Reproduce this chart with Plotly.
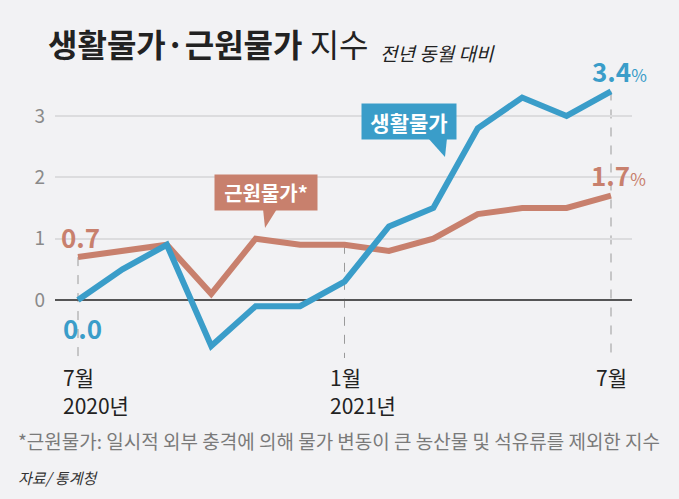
import plotly.graph_objects as go

# ---- data ----
months = ["2020-07", "2020-08", "2020-09", "2020-10", "2020-11", "2020-12",
          "2021-01", "2021-02", "2021-03", "2021-04", "2021-05", "2021-06", "2021-07"]
living_prices = [0.0, 0.5, 0.9, -0.75, -0.1, -0.1, 0.3, 1.2, 1.5, 2.8, 3.3, 3.0, 3.4]
core_prices = [0.7, 0.8, 0.9, 0.1, 1.0, 0.9, 0.9, 0.8, 1.0, 1.4, 1.5, 1.5, 1.7]
y_ticks = [0, 1, 2, 3]
x_label_idx = [0, 6, 12]
x_month_labels = ["7월", "1월", "7월"]
x_year_labels = ["2020년", "2021년", ""]

FONT = "Noto Sans CJK KR"
BLUE = "#3a9dc9"
ORANGE = "#c8806d"
BG = "#f2f2f4"

W, H = 679, 499
L, R, T, B = 55, 47, 70, 124
PW, PH = W - L - R, H - T - B
# pixel mapping used for axis ranges
x0_px, x12_px = 78, 611
ppx = (x12_px - x0_px) / 12
zero_px, three_px = 300, 116
ppu = (zero_px - three_px) / 3

xr = [(L - x0_px) / ppx, 12 + (W - R - x12_px) / ppx]
yr = [-(H - B - zero_px) / ppu, (zero_px - T) / ppu]

def px(xp):
    return (xp - L) / PW

def py(yp):
    return (H - B - yp) / PH

idx = list(range(len(months)))

fig = go.Figure()
fig.add_trace(go.Scatter(x=idx, y=core_prices, mode="lines",
                         line=dict(color=ORANGE, width=6), hoverinfo="skip"))
fig.add_trace(go.Scatter(x=idx, y=living_prices, mode="lines",
                         line=dict(color=BLUE, width=6), hoverinfo="skip"))

shapes = []
# dashed guide lines
bottom_val = -(358 - zero_px) / ppu
for i, top in [(0, core_prices[0]), (6, core_prices[6]), (12, living_prices[12])]:
    shapes.append(dict(type="line", xref="x", yref="y", x0=i, x1=i, y0=top, y1=bottom_val,
                       line=dict(color="#9a9a9a", width=1, dash="dash"), layer="below"))

# callout tails (paper coords)
def tri(points, color):
    path = "M " + " L ".join(f"{px(a):.4f},{py(b):.4f}" for a, b in points) + " Z"
    return dict(type="path", xref="paper", yref="paper", path=path,
                fillcolor=color, line=dict(width=0), layer="above")

shapes.append(tri([(263, 209), (277, 209), (265, 228)], ORANGE))
shapes.append(tri([(428, 138), (447, 138), (445, 157)], BLUE))

annotations = []
# callout boxes
annotations.append(dict(xref="paper", yref="paper", x=px(266), y=py(192.5),
                        text="<b>근원물가*</b>", showarrow=False,
                        font=dict(family=FONT, size=20, color="white"),
                        bgcolor=ORANGE, width=98, height=31, borderpad=2,
                        xanchor="center", yanchor="middle"))
annotations.append(dict(xref="paper", yref="paper", x=px(409), y=py(121),
                        text="<b>생활물가</b>", showarrow=False,
                        font=dict(family=FONT, size=21, color="white"),
                        bgcolor=BLUE, width=90, height=31, borderpad=2,
                        xanchor="center", yanchor="middle"))

# value labels
annotations.append(dict(x=0, y=core_prices[0], xref="x", yref="y", text="<b>0.7</b>",
                        showarrow=False, xshift=2, yshift=21,
                        font=dict(family=FONT, size=26, color=ORANGE)))
annotations.append(dict(x=0, y=living_prices[0], xref="x", yref="y", text="<b>0.0</b>",
                        showarrow=False, xshift=4, yshift=-27,
                        font=dict(family=FONT, size=26, color=BLUE)))
annotations.append(dict(x=12, y=living_prices[12], xref="x", yref="y",
                        text="<b>3.4</b><span style='font-size:17px;font-weight:normal'>%</span>",
                        showarrow=False, xshift=8, yshift=21,
                        font=dict(family=FONT, size=26, color=BLUE)))
annotations.append(dict(x=12, y=core_prices[12], xref="x", yref="y",
                        text="<b>1.7</b><span style='font-size:17px;font-weight:normal'>%</span>",
                        showarrow=False, xshift=7, yshift=21,
                        font=dict(family=FONT, size=26, color=ORANGE)))

# x labels
for i, m, yl in zip(x_label_idx, x_month_labels, x_year_labels):
    annotations.append(dict(x=i, xref="x", yref="paper", y=py(377), text=m,
                            showarrow=False, xanchor="left", yanchor="middle", xshift=-17,
                            font=dict(family=FONT, size=21, color="#222")))
    if yl:
        annotations.append(dict(x=i, xref="x", yref="paper", y=py(405), text=yl,
                                showarrow=False, xanchor="left", yanchor="middle", xshift=-17,
                                font=dict(family=FONT, size=21, color="#222")))

# title
annotations.append(dict(xref="paper", yref="paper", x=px(46), y=py(43),
                        text="<b>생활물가·근원물가</b> 지수", showarrow=False,
                        xanchor="left", yanchor="middle",
                        font=dict(family=FONT, size=32, color="#222")))
annotations.append(dict(xref="paper", yref="paper", x=px(378), y=py(52),
                        text="<i>전년 동월 대비</i>", showarrow=False,
                        xanchor="left", yanchor="middle",
                        font=dict(family=FONT, size=19, color="#222")))
# footnotes
annotations.append(dict(xref="paper", yref="paper", x=px(16), y=py(440),
                        text="*근원물가: 일시적 외부 충격에 의해 물가 변동이 큰 농산물 및 석유류를 제외한 지수",
                        showarrow=False, xanchor="left", yanchor="middle",
                        font=dict(family=FONT, size=19, color="#7a7a7a")))
annotations.append(dict(xref="paper", yref="paper", x=px(16), y=py(477),
                        text="<i>자료/ 통계청</i>", showarrow=False, xanchor="left", yanchor="middle",
                        font=dict(family=FONT, size=15, color="#333")))

fig.update_layout(
    width=W, height=H,
    margin=dict(l=L, r=R, t=T, b=B),
    paper_bgcolor=BG, plot_bgcolor=BG,
    showlegend=False,
    shapes=shapes, annotations=annotations,
    xaxis=dict(range=xr, showgrid=False, zeroline=False, showticklabels=False,
               ticks="", showline=False, fixedrange=True),
    yaxis=dict(range=yr, tickvals=y_ticks, ticktext=[str(v) for v in y_ticks],
               showgrid=True, gridcolor="#dcdcde", gridwidth=1.5,
               zeroline=True, zerolinecolor="#555555", zerolinewidth=1.5,
               tickfont=dict(family=FONT, size=19, color="#8a8a8a"),
               ticks="", ticklabelstandoff=9, showline=False, fixedrange=True),
)

fig.write_html("out.html", config={"displayModeBar": False},
               post_script="document.body.style.margin='0';document.body.style.background='" + BG + "';")
